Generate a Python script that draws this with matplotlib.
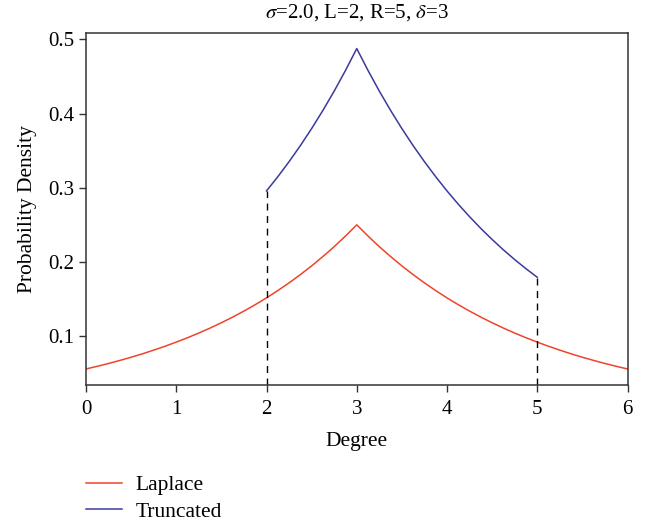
import matplotlib.pyplot as plt

plt.rcParams['font.family'] = ['Liberation Serif', 'DejaVu Serif']
plt.rcParams['mathtext.fontset'] = 'stix'

# values (step 0.125)
degree_full = [i * 0.125 for i in range(49)]
laplace = [0.0558, 0.0594, 0.0632, 0.0673, 0.0716, 0.0762, 0.0812, 0.0864,
           0.0920, 0.0979, 0.1042, 0.1109, 0.1181, 0.1257, 0.1338, 0.1424,
           0.1516, 0.1614, 0.1718, 0.1829, 0.1947, 0.2073, 0.2206, 0.2349,
           0.2500,
           0.2349, 0.2206, 0.2073, 0.1947, 0.1829, 0.1718, 0.1614, 0.1516,
           0.1424, 0.1338, 0.1257, 0.1181, 0.1109, 0.1042, 0.0979, 0.0920,
           0.0864, 0.0812, 0.0762, 0.0716, 0.0673, 0.0632, 0.0594, 0.0558]

degree_trunc = [2 + i * 0.125 for i in range(25)]
truncated = [0.2957, 0.3148, 0.3351, 0.3567, 0.3797, 0.4042, 0.4302, 0.4580,
             0.4875,
             0.4580, 0.4302, 0.4042, 0.3797, 0.3567, 0.3351, 0.3148, 0.2957,
             0.2778, 0.2610, 0.2451, 0.2303, 0.2163, 0.2032, 0.1909, 0.1794]

L, R = 2, 5

fig = plt.figure(figsize=(6.54, 5.25), dpi=100)
ax = fig.add_axes([86/654, 1 - 385/525, 541.5/654, 352/525])

ax.plot(degree_full, laplace, color='#f0432c', lw=1.1, label='Laplace')
ax.plot(degree_trunc, truncated, color='#3a3a9c', lw=1.1, label='Truncated')
ax.plot([L, L], [0, truncated[0]], color='black', ls=(0, (5, 4)), lw=1.0)
ax.plot([R, R], [0, truncated[-1]], color='black', ls=(0, (5, 4)), lw=1.0)

ax.set_xlim(0, 6)
ax.set_ylim(0.0342, 0.5085)
ax.set_xticks(range(7))
ax.set_yticks([0.1, 0.2, 0.3, 0.4, 0.5])
ax.tick_params(direction='out', length=5, width=1, labelsize=15, color='#333333')
ax.tick_params(axis='x', pad=6)
for s in ax.spines.values():
    s.set_color('#333333')
    s.set_linewidth(1.1)

ax.set_xlabel('Degree', fontsize=15.5, labelpad=9)
ax.set_ylabel('Probability Density', fontsize=15.5, labelpad=8)
ax.set_title(r'$\sigma$=2.0, L=2, R=5, $\delta$=3', fontsize=15, pad=11)

fig.legend(loc='upper left', bbox_to_anchor=(86/654, 1 - 475/525), frameon=False,
           fontsize=15.5, handlelength=1.65, handletextpad=0.65, labelspacing=0.3,
           borderpad=0, borderaxespad=0)

fig.savefig('out.png', dpi=100)
